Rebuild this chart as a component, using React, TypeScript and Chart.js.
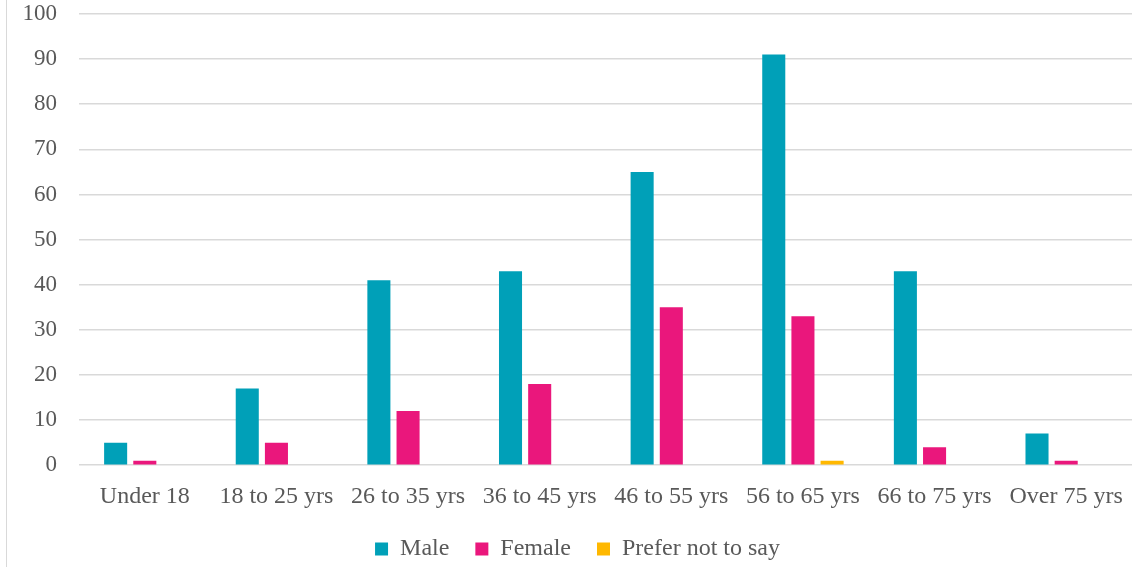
import React, { useEffect, useRef } from "react";
import { Chart, registerables } from "chart.js";

Chart.register(...registerables);

const categories = [
  "Under 18",
  "18 to 25 yrs",
  "26 to 35 yrs",
  "36 to 45 yrs",
  "46 to 55 yrs",
  "56 to 65 yrs",
  "66 to 75 yrs",
  "Over 75 yrs",
];
const maleValues = [5, 17, 41, 43, 65, 91, 43, 7];
const femaleValues = [1, 5, 12, 18, 35, 33, 4, 1];
const preferNotValues = [0, 0, 0, 0, 0, 1, 0, 0];
const yTicks = [0, 10, 20, 30, 40, 50, 60, 70, 80, 90, 100];

const FONT = "'Liberation Serif', 'DejaVu Serif', serif";
const TEXT = "#595959";

export default function App() {
  const ref = useRef<HTMLCanvasElement | null>(null);

  useEffect(() => {
    if (!ref.current) return;
    const chart = new Chart(ref.current, {
      type: "bar",
      data: {
        labels: categories,
        datasets: [
          { label: "Male", data: maleValues, backgroundColor: "#00A0B8" },
          { label: "Female", data: femaleValues, backgroundColor: "#EA177C" },
          { label: "Prefer not to say", data: preferNotValues, backgroundColor: "#FFB800" },
        ],
      },
      options: {
        responsive: false,
        animation: false,
        datasets: {
          bar: { categoryPercentage: 0.665, barPercentage: 0.79 },
        },
        layout: { padding: { left: 16, right: 0, top: 14, bottom: 0 } },
        scales: {
          x: {
            grid: { display: false, drawTicks: false },
            border: { display: false },
            afterFit: (axis: any) => {
              axis.paddingLeft = 0;
              axis.paddingRight = 0;
              axis.height = axis.height - 17;
            },
            ticks: {
              color: TEXT,
              font: { family: FONT, size: 24 },
              padding: 17,
              maxRotation: 0,
              autoSkip: false,
            },
          },
          y: {
            min: 0,
            max: 100,
            afterBuildTicks: (axis: any) => {
              axis.ticks = yTicks.map((v) => ({ value: v }));
            },
            afterFit: (axis: any) => {
              axis.width = 56;
              axis.paddingTop = 0;
              axis.paddingBottom = 0;
            },
            grid: { color: "#d9d9d9", lineWidth: 1.5, drawTicks: false },
            border: { display: false },
            ticks: {
              color: TEXT,
              font: { family: FONT, size: 23 },
              padding: 22,
            },
          },
        },
        plugins: {
          legend: {
            position: "bottom",
            labels: {
              color: TEXT,
              font: { family: FONT, size: 24 },
              boxWidth: 13,
              boxHeight: 13,
              padding: 26,
            },
          },
          tooltip: { enabled: false },
        },
      },
    });
    return () => chart.destroy();
  }, []);

  return (
    <div style={{ position: "absolute", left: 0, top: 0, width: 1132, height: 567, background: "#fff", overflow: "hidden" }}>
      <div
        style={{
          position: "absolute",
          left: 6,
          top: 0,
          width: 0,
          height: 567,
          borderLeft: "1.5px solid #d9d9d9",
        }}
      />
      <canvas
        ref={ref}
        width={1125}
        height={571}
        style={{ position: "absolute", left: 7, top: 0 }}
      />
    </div>
  );
}
